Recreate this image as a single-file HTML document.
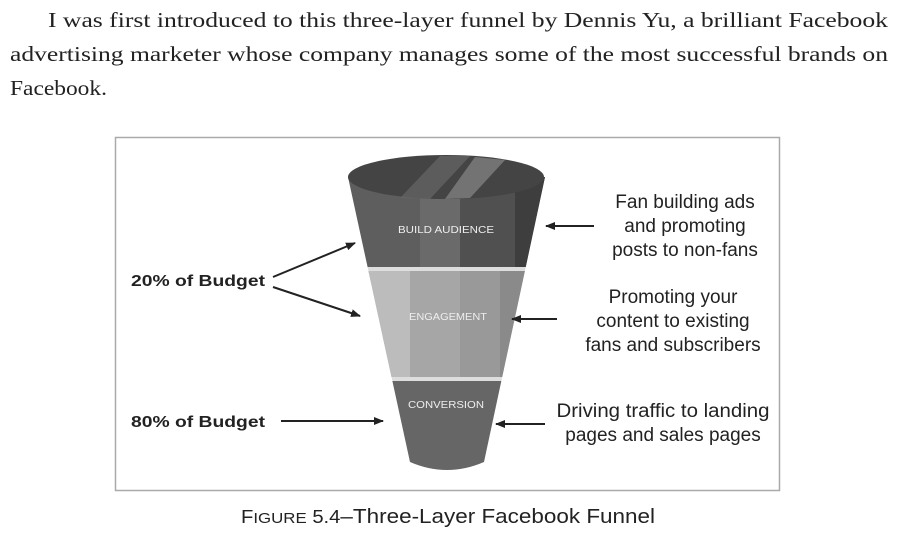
<!DOCTYPE html>
<html><head><meta charset="utf-8"><style>
html,body{margin:0;padding:0;background:#fff;}
body{width:904px;height:532px;overflow:hidden;}
</style></head><body>
<svg width="904" height="532" xmlns="http://www.w3.org/2000/svg">
<defs>
<marker id="a" markerWidth="10" markerHeight="8" refX="9" refY="4" orient="auto" markerUnits="userSpaceOnUse"><path d="M0,0 L10,4 L0,8 Z" fill="#222"/></marker>
<clipPath id="f"><path d="M348,177 L545,177 L484,462 Q447,478 410,462 Z"/></clipPath>
</defs>
<g font-family="'Liberation Serif',serif" font-size="21" fill="#222">
<text x="48" y="27" textLength="840" lengthAdjust="spacingAndGlyphs">I was first introduced to this three-layer funnel by Dennis Yu, a brilliant Facebook</text>
<text x="10" y="61" textLength="878" lengthAdjust="spacingAndGlyphs">advertising marketer whose company manages some of the most successful brands on</text>
<text x="10" y="95" textLength="97" lengthAdjust="spacingAndGlyphs">Facebook.</text>
</g>
<rect x="115.5" y="137.5" width="664" height="353" fill="#fff" stroke="#aaa" stroke-width="1.5"/>
<g clip-path="url(#f)">
<rect x="340" y="170" width="220" height="97" fill="#5e5e5e"/>
<rect x="420" y="170" width="40" height="97" fill="#6a6a6a"/>
<rect x="460" y="170" width="55" height="97" fill="#505050"/>
<rect x="515" y="170" width="40" height="97" fill="#3e3e3e"/>
<rect x="340" y="267" width="220" height="4" fill="#ddd"/>
<rect x="340" y="271" width="220" height="106" fill="#a6a6a6"/>
<rect x="340" y="271" width="70" height="106" fill="#bcbcbc"/>
<rect x="460" y="271" width="40" height="106" fill="#999"/>
<rect x="500" y="271" width="60" height="106" fill="#8a8a8a"/>
<rect x="340" y="377" width="220" height="4" fill="#ddd"/>
<rect x="340" y="381" width="220" height="100" fill="#666"/>
</g>
<ellipse cx="446" cy="177" rx="98" ry="22" fill="#444"/>
<path d="M440,156 L470,156 L430,199 L400,198 Z" fill="#666" opacity="0.7"/>
<path d="M475,157 L505,160 L470,198 L445,199 Z" fill="#888" opacity="0.7"/>
<g font-family="'Liberation Sans',sans-serif" font-size="10" fill="#eee" text-anchor="middle">
<text x="446" y="233" textLength="96" lengthAdjust="spacingAndGlyphs">BUILD AUDIENCE</text>
<text x="448" y="320" textLength="78" lengthAdjust="spacingAndGlyphs">ENGAGEMENT</text>
<text x="446" y="408" textLength="76" lengthAdjust="spacingAndGlyphs">CONVERSION</text>
</g>
<g stroke="#222" stroke-width="2" marker-end="url(#a)">
<line x1="273" y1="277" x2="355" y2="243"/>
<line x1="273" y1="287" x2="360" y2="316"/>
<line x1="281" y1="421" x2="383" y2="421"/>
<line x1="594" y1="226" x2="546" y2="226"/>
<line x1="557" y1="319" x2="512" y2="319"/>
<line x1="545" y1="424" x2="496" y2="424"/>
</g>
<g font-family="'Liberation Sans',sans-serif" font-size="16" font-weight="bold" fill="#222">
<text x="131" y="286" textLength="134" lengthAdjust="spacingAndGlyphs">20% of Budget</text>
<text x="131" y="427" textLength="134" lengthAdjust="spacingAndGlyphs">80% of Budget</text>
</g>
<g font-family="'Liberation Sans',sans-serif" font-size="19" fill="#222" text-anchor="middle">
<text x="685" y="208">Fan building ads</text>
<text x="685" y="232">and promoting</text>
<text x="685" y="256">posts to non-fans</text>
<text x="673" y="303">Promoting your</text>
<text x="673" y="327">content to existing</text>
<text x="673" y="351">fans and subscribers</text>
<text x="663" y="417" textLength="213" lengthAdjust="spacingAndGlyphs">Driving traffic to landing</text>
<text x="663" y="441">pages and sales pages</text>
</g>
<text x="448" y="523" text-anchor="middle" font-family="'Liberation Sans',sans-serif" font-size="20" fill="#222" textLength="414" lengthAdjust="spacingAndGlyphs"><tspan font-size="18">F</tspan><tspan font-size="15">IGURE</tspan><tspan font-size="18"> 5.4</tspan>–Three-Layer Facebook Funnel</text>
</svg>
</body></html>
